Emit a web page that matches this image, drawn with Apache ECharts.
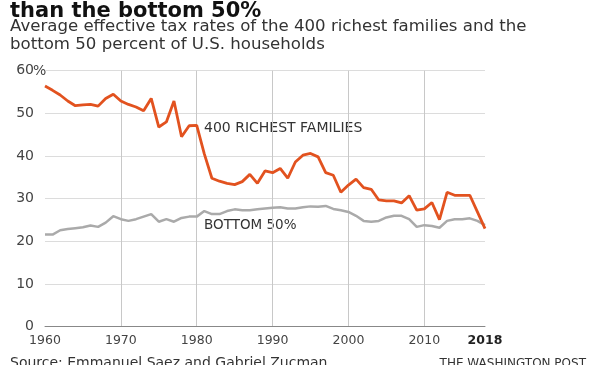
<!DOCTYPE html>
<html>
<head>
<meta charset="utf-8">
<script src="https://cdn.jsdelivr.net/npm/echarts@6/dist/echarts.min.js"></script>
<style>
html,body{margin:0;padding:0;background:#fff;}
#c{width:600px;height:365px;}
</style>
</head>
<body>
<div id="c"></div>
<script>
var years = [];
for (var y = 1960; y <= 2018; y++) years.push(String(y));

var richest400 = [56.4,55.4,54.3,52.9,51.8,52.0,52.1,51.7,53.5,54.5,
  52.9,52.1,51.5,50.6,53.5,46.8,48.0,52.9,44.5,47.1,
  47.2,40.5,34.8,34.1,33.6,33.3,34.0,35.7,33.6,36.5,
  36.1,37.1,34.8,38.6,40.2,40.6,39.8,36.1,35.5,31.5,
  33.2,34.6,32.6,32.2,29.7,29.5,29.5,29.0,30.7,27.3,
  27.6,29.1,25.1,31.5,30.8,30.8,30.8,26.9,23.0];

var bottom50 = [21.6,21.6,22.6,22.9,23.1,23.3,23.7,23.4,24.4,25.9,
  25.2,24.8,25.2,25.8,26.4,24.6,25.2,24.6,25.5,25.8,
  25.8,27.1,26.4,26.4,27.1,27.5,27.3,27.3,27.5,27.7,
  27.9,28.0,27.7,27.7,28.0,28.2,28.1,28.3,27.6,27.3,
  26.9,26.0,24.8,24.6,24.8,25.6,26.0,26.0,25.2,23.4,
  23.8,23.6,23.2,24.8,25.2,25.2,25.4,24.8,23.8];

var yTicks = [0,10,20,30,40,50,60];
var xTickYears = ['1960','1970','1980','1990','2000','2010','2018'];

var titleText = 'than the bottom 50%';
var subtitleText = 'Average effective tax rates of the 400 richest families and the\nbottom 50 percent of U.S. households';
var sourceText = 'Source: Emmanuel Saez and Gabriel Zucman';
var creditText = 'THE WASHINGTON POST';
var labelRich = '400 RICHEST FAMILIES';
var labelBottom = 'BOTTOM 50%';

var FONT = '"DejaVu Sans", Verdana, sans-serif';
var chart = echarts.init(document.getElementById('c'), null, {renderer:'canvas'});

var decadeSet = {};
['1970','1980','1990','2000','2010'].forEach(function(d){decadeSet[d]=true;});
var labelSet = {};
xTickYears.forEach(function(d){labelSet[d]=true;});

chart.setOption({
  animation: false,
  grid: {left: 45, right: 115, top: 70.7, bottom: 38.3},
  xAxis: {
    type: 'category',
    data: years,
    boundaryGap: false,
    axisLine: {show: true, lineStyle: {color: '#888', width: 1}},
    axisTick: {show: false},
    axisLabel: {
      interval: function(i, v){ return !!labelSet[v]; },
      color: '#444', fontFamily: FONT, fontSize: 12.5, margin: 8,
      formatter: function(v){ return v === '2018' ? '{b|2018}' : v; },
      rich: {b: {fontWeight: 'bold', color: '#222', fontFamily: FONT, fontSize: 12.5}}
    },
    splitLine: {
      show: true,
      interval: function(i, v){ return !!decadeSet[v]; },
      lineStyle: {color: '#c8c8c8', width: 1}
    }
  },
  yAxis: {
    type: 'value', min: 0, max: 60, interval: 10,
    axisLine: {show: false},
    axisTick: {show: false},
    axisLabel: {color: '#444', fontFamily: FONT, fontSize: 14, margin: 11,
      formatter: function(v){ return yTicks.indexOf(v) >= 0 ? String(v) : ''; }},
    splitLine: {show: true, lineStyle: {color: '#dcdcdc', width: 1}}
  },
  series: [
    {type: 'line', data: bottom50, symbol: 'none',
     lineStyle: {color: '#aaaaaa', width: 2.5}, z: 3},
    {type: 'line', data: richest400, symbol: 'none',
     lineStyle: {color: '#e2521f', width: 2.8}, z: 4}
  ],
  graphic: [
    {type: 'text', left: 10, top: 1, style: {text: titleText, font: 'bold 21px ' + FONT, fill: '#111'}},
    {type: 'text', left: 10, top: 17.5, style: {text: subtitleText, font: '16.6px ' + FONT, fill: '#333', lineHeight: 18}},
    {type: 'text', left: 33, top: 64, style: {text: '%', font: '14px ' + FONT, fill: '#444'}},
    {type: 'text', left: 204, top: 121, style: {text: labelRich, font: '14px ' + FONT, fill: '#333'}},
    {type: 'text', left: 204, top: 218, style: {text: labelBottom, font: '13.5px ' + FONT, fill: '#333'}},
    {type: 'text', left: 10, top: 356, style: {text: sourceText, font: '14px ' + FONT, fill: '#333'}},
    {type: 'text', right: 14, top: 358, style: {text: creditText, font: '12px ' + FONT, fill: '#333'}}
  ]
});
</script>
</body>
</html>
